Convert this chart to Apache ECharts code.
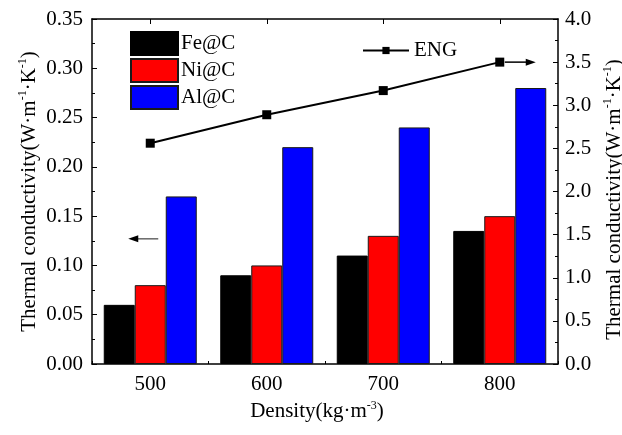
<!DOCTYPE html>
<html>
<head>
<meta charset="utf-8">
<script src="https://cdn.jsdelivr.net/npm/echarts@6/dist/echarts.min.js"></script>
<style>html,body{margin:0;padding:0;background:#fff}#c{width:622px;height:435px}</style>
</head>
<body>
<div id="c"></div>
<script>
const categories = ['500', '600', '700', '800'];
const feC = [0.06, 0.09, 0.11, 0.135];
const niC = [0.08, 0.10, 0.13, 0.15];
const alC = [0.17, 0.22, 0.24, 0.28];
const eng = [2.56, 2.89, 3.17, 3.5];
const leftTicks = { min: 0, max: 0.35, interval: 0.05 };
const rightTicks = { min: 0, max: 4, interval: 0.5 };

const FONT = '"Liberation Serif", "Times New Roman", serif';
const FS = 21;
const chart = echarts.init(document.getElementById('c'));

const titleRich = {
  a: { fontFamily: FONT, fontSize: FS, color: '#000', lineHeight: 24 },
  s: { fontFamily: FONT, fontSize: 12, color: '#000', verticalAlign: 'top', lineHeight: 24, padding: [0, 0, 10, 0] }
};
const titleText = '{a|Thermal conductivity(W·m}{s|-1}{a|·K}{s|-1}{a|)}';

const barStyle = (c) => ({ color: c, borderColor: '#1a1a1a', borderWidth: 1 });

chart.setOption({
  animation: false,
  textStyle: { fontFamily: FONT },
  grid: { left: 92, right: 64, top: 19, bottom: 71, containLabel: false, outerBoundsMode: 'none' },
  legend: [
    {
      data: ['Fe@C', 'Ni@C', 'Al@C'],
      orient: 'vertical', left: 130, top: 31, padding: 0,
      icon: 'rect',
      itemWidth: 47, itemHeight: 23, itemGap: 2,
      textStyle: { fontFamily: FONT, fontSize: FS, color: '#000', padding: [0, 0, 0, -2] }
    },
    {
      data: ['ENG'],
      left: 362, top: 40, padding: 0,
      itemWidth: 46, itemHeight: 9,
      textStyle: { fontFamily: FONT, fontSize: FS, color: '#000' }
    }
  ],
  xAxis: [
    {
      type: 'category', data: categories, position: 'bottom',
      name: '{a|Density(kg·m}{s|-3}{a|)}', nameLocation: 'middle', nameGap: 35,
      nameTextStyle: { rich: titleRich, padding: [0, 16, 0, 0] },
      axisLine: { show: true, lineStyle: { color: '#000', width: 1.5 } },
      axisTick: { show: true, inside: true, alignWithLabel: true, length: 5, lineStyle: { color: '#000' } },
      axisLabel: { fontFamily: FONT, fontSize: FS, color: '#000', margin: 10 },
      splitLine: { show: false }
    },
    {
      type: 'category', data: categories, position: 'bottom',
      axisLine: { show: false },
      axisTick: { show: true, inside: true, alignWithLabel: false, length: 3, lineStyle: { color: '#000' } },
      axisLabel: { show: false }, splitLine: { show: false }
    },
    {
      type: 'category', data: categories, position: 'top',
      axisLine: { show: true, lineStyle: { color: '#000', width: 1.5 } },
      axisTick: { show: true, inside: true, alignWithLabel: true, length: 5, lineStyle: { color: '#000' } },
      axisLabel: { show: false }, splitLine: { show: false }
    }
  ],
  yAxis: [
    {
      type: 'value', position: 'left', ...leftTicks,
      name: titleText, nameLocation: 'middle', nameGap: 51, nameRotate: 90, nameMoveOverlap: false,
      nameTextStyle: { rich: titleRich },
      axisLine: { show: true, lineStyle: { color: '#000', width: 1.5 } },
      axisTick: { show: true, inside: true, length: 5, lineStyle: { color: '#000' } },
      minorTick: { show: true, splitNumber: 2, length: 3, lineStyle: { color: '#000' } },
      axisLabel: { fontFamily: FONT, fontSize: FS, color: '#000', margin: 9, formatter: v => v.toFixed(2) },
      splitLine: { show: false }
    },
    {
      type: 'value', position: 'right', ...rightTicks,
      name: titleText, nameLocation: 'middle', nameGap: 44, nameRotate: 90, nameMoveOverlap: false,
      nameTextStyle: { rich: titleRich, padding: [0, 16, 0, 0] },
      axisLine: { show: true, lineStyle: { color: '#000', width: 1.5 } },
      axisTick: { show: true, inside: true, length: 5, lineStyle: { color: '#000' } },
      minorTick: { show: true, splitNumber: 2, length: 3, lineStyle: { color: '#000' } },
      axisLabel: { fontFamily: FONT, fontSize: FS, color: '#000', margin: 7, formatter: v => v.toFixed(1) },
      splitLine: { show: false }
    }
  ],
  series: [
    { name: 'Fe@C', type: 'bar', data: feC, barWidth: 31, barGap: '0%', itemStyle: { color: '#000', borderColor: '#000', borderWidth: 1 } },
    { name: 'Ni@C', type: 'bar', data: niC, barWidth: 31, barGap: '0%', itemStyle: barStyle('#ff0000') },
    { name: 'Al@C', type: 'bar', data: alC, barWidth: 31, barGap: '0%', itemStyle: barStyle('#0000ff') },
    {
      name: 'ENG', type: 'line', yAxisIndex: 1, data: eng,
      symbol: 'rect', symbolSize: 9,
      lineStyle: { color: '#000', width: 2 }, itemStyle: { color: '#000' }
    }
  ]
});

// Arrow annotations placed relative to data via the chart's scales
function arrow(x1, y1, x2, y2, color) {
  const dir = Math.sign(x2 - x1);
  return [
    { type: 'line', z: 100, shape: { x1: x1, y1: y1, x2: x2 - dir * 8, y2: y2 }, style: { stroke: color, lineWidth: 1.5 } },
    { type: 'polygon', z: 100, shape: { points: [[x2, y2], [x2 - dir * 10, y2 - 3.5], [x2 - dir * 10, y2 + 3.5]] }, style: { fill: '#000' } }
  ];
}
const pLast = chart.convertToPixel({ xAxisIndex: 0, yAxisIndex: 1 }, [3, eng[3]]);
const pFirst = chart.convertToPixel({ xAxisIndex: 0, yAxisIndex: 0 }, [0, 0.127]);
chart.setOption({
  graphic: [
    ...arrow(pLast[0] + 5, pLast[1], pLast[0] + 36, pLast[1], '#000'),
    ...arrow(pFirst[0] + 8, pFirst[1], pFirst[0] - 22, pFirst[1], '#666')
  ]
});
</script>
</body>
</html>
